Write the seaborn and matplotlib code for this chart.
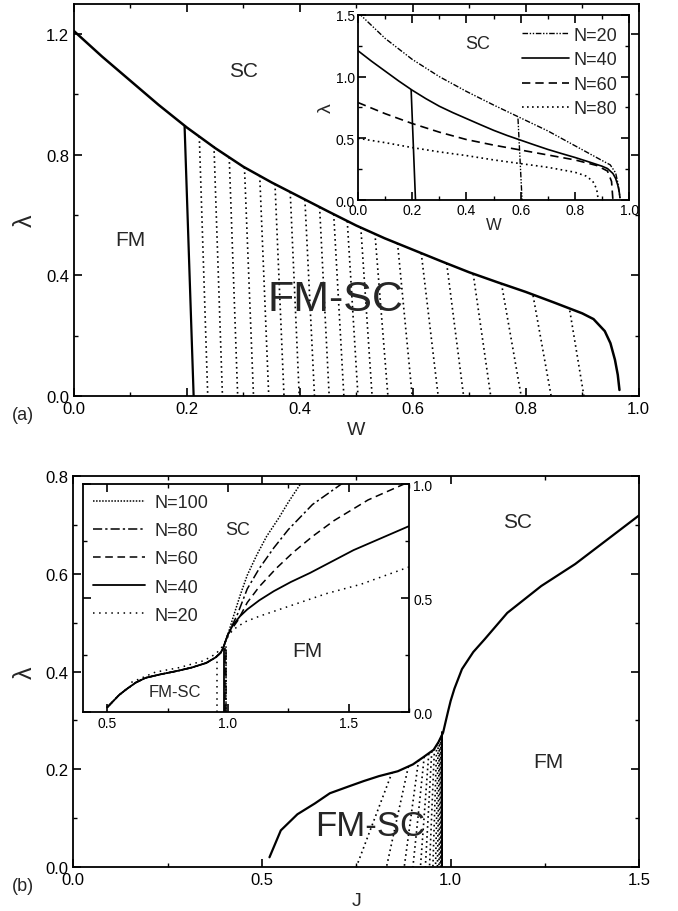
import numpy as np
import pandas as pd
import seaborn as sns
import matplotlib.pyplot as plt
from matplotlib.ticker import MultipleLocator

# ---------------- panel (a): lambda vs W ----------------
# SC / FM-SC boundary (also the N=40 curve of the inset)
w_sc = [0.0, 0.05, 0.1, 0.15, 0.2, 0.25, 0.3, 0.35, 0.4, 0.45, 0.5, 0.55, 0.6, 0.65, 0.7,
        0.75, 0.8, 0.85, 0.9, 0.92, 0.94, 0.95, 0.958, 0.963, 0.966]
lam_sc = [1.21, 1.125, 1.045, 0.965, 0.89, 0.822, 0.76, 0.708, 0.66, 0.612, 0.565, 0.523,
          0.485, 0.447, 0.41, 0.377, 0.345, 0.31, 0.274, 0.255, 0.215, 0.175, 0.12, 0.07, 0.02]
# FM / FM-SC boundary
w_fm = [0.196, 0.212]
lam_fm = [0.893, 0.0]
# dotted lines inside FM-SC (top point on the boundary, bottom on lambda=0)
w_dot_top = [0.222, 0.248, 0.275, 0.302, 0.329, 0.356, 0.383, 0.409, 0.435, 0.46,
             0.484, 0.508, 0.533, 0.573, 0.615, 0.66, 0.707, 0.757, 0.813, 0.878]
lam_dot_top = [0.861, 0.828, 0.792, 0.758, 0.731, 0.704, 0.677, 0.651, 0.627, 0.603,
               0.58, 0.559, 0.539, 0.507, 0.474, 0.44, 0.405, 0.373, 0.333, 0.283]
w_dot_bot = [0.237, 0.263, 0.29, 0.318, 0.345, 0.372, 0.399, 0.426, 0.452, 0.478,
             0.503, 0.528, 0.556, 0.599, 0.645, 0.69, 0.738, 0.792, 0.845, 0.903]

# inset (a)
ia_w20 = [0.0, 0.1, 0.2, 0.3, 0.4, 0.5, 0.6, 0.7, 0.8, 0.9, 0.93, 0.95, 0.96, 0.967]
ia_lam20 = [1.52, 1.31, 1.14, 1.0, 0.88, 0.77, 0.665, 0.56, 0.44, 0.32, 0.285, 0.22, 0.12, 0.0]
ia_w20_v = [0.59, 0.605]
ia_lam20_v = [0.66, 0.0]
ia_w60 = [0.0, 0.1, 0.2, 0.3, 0.4, 0.5, 0.6, 0.7, 0.8, 0.88, 0.92, 0.935, 0.94]
ia_lam60 = [0.79, 0.70, 0.62, 0.55, 0.49, 0.445, 0.405, 0.365, 0.325, 0.28, 0.235, 0.15, 0.0]
ia_w80 = [0.0, 0.1, 0.2, 0.3, 0.4, 0.5, 0.6, 0.7, 0.8, 0.84, 0.865, 0.88, 0.886]
ia_lam80 = [0.50, 0.465, 0.425, 0.39, 0.36, 0.325, 0.295, 0.265, 0.225, 0.195, 0.155, 0.09, 0.0]

# ---------------- panel (b): lambda vs J ----------------
j_sc = [0.52, 0.55, 0.594, 0.64, 0.68, 0.73, 0.77, 0.81, 0.86, 0.90, 0.928, 0.955, 0.968,
        0.98, 0.986, 0.993, 1.0, 1.01, 1.03, 1.06, 1.09, 1.15, 1.24, 1.33, 1.415, 1.5]
lam_b = [0.02, 0.075, 0.108, 0.13, 0.151, 0.165, 0.176, 0.186, 0.196, 0.21, 0.225, 0.24, 0.256,
         0.275, 0.295, 0.318, 0.34, 0.365, 0.405, 0.44, 0.466, 0.52, 0.575, 0.62, 0.67, 0.72]
j_dot_top = [0.845, 0.888, 0.915, 0.93, 0.942, 0.95, 0.957, 0.963, 0.967, 0.97,
             0.972, 0.974, 0.976, 0.977, 0.978]
lam_b_dot_top = [0.194, 0.206, 0.219, 0.226, 0.232, 0.237, 0.242, 0.25, 0.255, 0.26,
                 0.263, 0.266, 0.269, 0.271, 0.272]
j_dot_bot = [0.75, 0.83, 0.877, 0.90, 0.92, 0.933, 0.944, 0.953, 0.96, 0.965,
             0.969, 0.972, 0.974, 0.976, 0.978]
j_wall = [0.978, 0.978]
lam_wall = [0.0, 0.276]

# inset (b)
ib_j_low = [0.50, 0.55, 0.58, 0.62, 0.66, 0.72, 0.79, 0.85, 0.91, 0.95, 0.97, 0.98, 0.99, 1.0]
ib_lam_low = [0.02, 0.075, 0.10, 0.13, 0.15, 0.165, 0.18, 0.195, 0.215, 0.24, 0.26, 0.28, 0.31, 0.34]
ib_j100 = [1.02, 1.05, 1.08, 1.12, 1.16, 1.21, 1.25, 1.30, 1.33]
ib_lam100 = [0.41, 0.51, 0.60, 0.69, 0.77, 0.85, 0.92, 1.0, 1.05]
ib_j80 = [1.04, 1.08, 1.13, 1.19, 1.25, 1.35, 1.47, 1.5]
ib_lam80 = [0.43, 0.54, 0.63, 0.72, 0.80, 0.91, 1.0, 1.02]
ib_j60 = [1.04, 1.08, 1.13, 1.2, 1.27, 1.35, 1.44, 1.58, 1.73, 1.76]
ib_lam60 = [0.40, 0.48, 0.55, 0.63, 0.70, 0.77, 0.84, 0.93, 1.0, 1.01]
ib_j40 = [1.02, 1.05, 1.08, 1.13, 1.19, 1.26, 1.34, 1.43, 1.52, 1.64, 1.76]
ib_lam40 = [0.38, 0.42, 0.45, 0.49, 0.53, 0.57, 0.61, 0.66, 0.71, 0.765, 0.82]
ib_j20 = [0.6, 0.7, 0.8, 0.9, 0.95, 0.98, 1.0, 1.02, 1.07, 1.13, 1.2, 1.27, 1.41, 1.55, 1.76]
ib_lam20 = [0.13, 0.175, 0.195, 0.225, 0.255, 0.29, 0.33, 0.36, 0.395, 0.42, 0.445, 0.47, 0.52, 0.56, 0.64]
ib_vert_j = {20: 0.956, 40: 0.982, 60: 0.986, 80: 0.99, 100: 0.993}
ib_vert_lam = {20: 0.255, 40: 0.275, 60: 0.28, 80: 0.285, 100: 0.29}

# line styles
ls_dot = (0, (1, 2))
ls_dd = (0, (4, 1.2, 1, 1.2, 1, 1.2))
ls_dash = (0, (5, 3))
ls_dashdot = (0, (6, 2, 1.5, 2))
ls_fine = (0, (1, 1))
ls_sparse = (0, (1, 3))

sns.set_theme(style="ticks")
plt.rcParams['font.family'] = ['Liberation Sans', 'DejaVu Sans']
plt.rcParams['xtick.direction'] = 'in'
plt.rcParams['ytick.direction'] = 'in'
plt.rcParams['axes.edgecolor'] = 'black'
plt.rcParams['axes.linewidth'] = 1.3


def line(ax, x, y, **kw):
    sns.lineplot(x=x, y=y, ax=ax, sort=False, estimator=None, color='black', **kw)
    return ax.lines[-1]


def style_axes(ax, xmaj, xmin, ymaj, ymin, size):
    ax.xaxis.set_major_locator(MultipleLocator(xmaj))
    ax.xaxis.set_minor_locator(MultipleLocator(xmin))
    ax.yaxis.set_major_locator(MultipleLocator(ymaj))
    ax.yaxis.set_minor_locator(MultipleLocator(ymin))
    ax.tick_params(which='both', top=True, right=True, labelsize=size, colors='black')
    ax.tick_params(which='major', length=6, width=1.2)
    ax.tick_params(which='minor', length=3, width=1.0)
    ax.set_xlabel('')
    ax.set_ylabel('')


fig = plt.figure(figsize=(6.78, 9.12), dpi=100)

# ---- panel (a)
ax_a = fig.add_axes([0.109, 0.5647, 0.833, 0.430])
line(ax_a, w_sc, lam_sc, lw=1.8)
line(ax_a, w_fm, lam_fm, lw=1.6)
for wt, lt, wb in zip(w_dot_top, lam_dot_top, w_dot_bot):
    line(ax_a, [wt, wb], [lt, 0.0], lw=1.2, linestyle=ls_dot)
ax_a.set_xlim(0, 1.0)
ax_a.set_ylim(0, 1.3)
style_axes(ax_a, 0.2, 0.1, 0.4, 0.2, 12)
ax_a.set_xlabel('W', fontsize=14, labelpad=4)
ax_a.set_ylabel('λ', fontsize=18)
ax_a.yaxis.set_label_coords(-0.065, 0.45)
ax_a.text(0.30, 1.08, 'SC', fontsize=15, ha='center', va='center')
ax_a.text(0.10, 0.52, 'FM', fontsize=15, ha='center', va='center')
ax_a.text(0.464, 0.32, 'FM-SC', fontsize=31, ha='center', va='center')

# ---- inset (a)
ia = fig.add_axes([0.528, 0.7796, 0.400, 0.2029])
ia.set_facecolor('white')
h20 = line(ia, ia_w20, ia_lam20, lw=1.0, linestyle=ls_dd)
line(ia, ia_w20_v, ia_lam20_v, lw=1.0, linestyle=ls_dd)
h40 = line(ia, w_sc, lam_sc, lw=1.2)
line(ia, w_fm, lam_fm, lw=1.2)
h60 = line(ia, ia_w60, ia_lam60, lw=1.2, linestyle=ls_dash)
h80 = line(ia, ia_w80, ia_lam80, lw=1.2, linestyle=ls_dot)
ia.set_xlim(0, 1.0)
ia.set_ylim(0, 1.5)
style_axes(ia, 0.2, 0.1, 0.5, 0.25, 10)
ia.tick_params(axis='x', pad=2.5)
ia.tick_params(axis='y', pad=2)
ia.set_xlabel('W', fontsize=12, labelpad=0)
ia.set_ylabel('λ', fontsize=14, labelpad=1)
ia.text(0.44, 1.27, 'SC', fontsize=13, ha='center', va='center')
ia.legend([h20, h40, h60, h80], ['N=20', 'N=40', 'N=60', 'N=80'], loc='upper right',
          frameon=False, fontsize=13, handlelength=2.6, handletextpad=0.25,
          labelspacing=0.42, borderaxespad=0.3, borderpad=0.35)

# ---- panel (b)
ax_b = fig.add_axes([0.108, 0.0482, 0.835, 0.4287])
line(ax_b, j_sc, lam_b, lw=1.6)
for jt, lt, jb in zip(j_dot_top, lam_b_dot_top, j_dot_bot):
    line(ax_b, [jt, jb], [lt, 0.0], lw=1.2, linestyle=ls_dot)
line(ax_b, j_wall, lam_wall, lw=1.4)
ax_b.set_xlim(0, 1.5)
ax_b.set_ylim(0, 0.8)
style_axes(ax_b, 0.5, 0.25, 0.2, 0.1, 12)
ax_b.set_xlabel('J', fontsize=14, labelpad=4)
ax_b.set_ylabel('λ', fontsize=18)
ax_b.yaxis.set_label_coords(-0.065, 0.5)
ax_b.text(1.177, 0.707, 'SC', fontsize=15, ha='center', va='center')
ax_b.text(1.26, 0.215, 'FM', fontsize=15, ha='center', va='center')
ax_b.text(0.787, 0.084, 'FM-SC', fontsize=25, ha='center', va='center')

# ---- inset (b)
ib = fig.add_axes([0.1224, 0.2182, 0.481, 0.25])
ib.set_facecolor('white')
curves = [
    (100, ib_j_low + ib_j100, ib_lam_low + ib_lam100, ls_fine, 1.1),
    (80, ib_j_low + ib_j80, ib_lam_low + ib_lam80, ls_dashdot, 1.1),
    (60, ib_j_low + ib_j60, ib_lam_low + ib_lam60, ls_dash, 1.1),
    (40, ib_j_low + ib_j40, ib_lam_low + ib_lam40, '-', 1.3),
    (20, ib_j20, ib_lam20, ls_sparse, 1.1),
]
handles = []
for n, jj, ll, ls, lw in curves:
    handles.append(line(ib, jj, ll, lw=lw, linestyle=ls))
    line(ib, [ib_vert_j[n], ib_vert_j[n]], [0.0, ib_vert_lam[n]], lw=lw, linestyle=ls)
ib.set_xlim(0.4, 1.75)
ib.set_ylim(0, 1.0)
style_axes(ib, 0.5, 0.25, 0.5, 0.25, 10)
ib.tick_params(axis='y', labelleft=False, labelright=True, pad=3)
ib.tick_params(axis='x', pad=3)
ib.text(1.04, 0.80, 'SC', fontsize=13, ha='center', va='center')
ib.text(1.33, 0.27, 'FM', fontsize=15, ha='center', va='center')
ib.text(0.78, 0.09, 'FM-SC', fontsize=12, ha='center', va='center')
ib.legend(handles, ['N=100', 'N=80', 'N=60', 'N=40', 'N=20'], loc='upper left',
          frameon=False, fontsize=13, handlelength=2.9, handletextpad=0.5,
          labelspacing=0.62, borderaxespad=0.0, borderpad=0.55)

fig.text(0.018, 1 - 415 / 912, '(a)', fontsize=13, va='center')
fig.text(0.018, 1 - 887 / 912, '(b)', fontsize=13, va='center')

fig.savefig('out.png', dpi=100)
